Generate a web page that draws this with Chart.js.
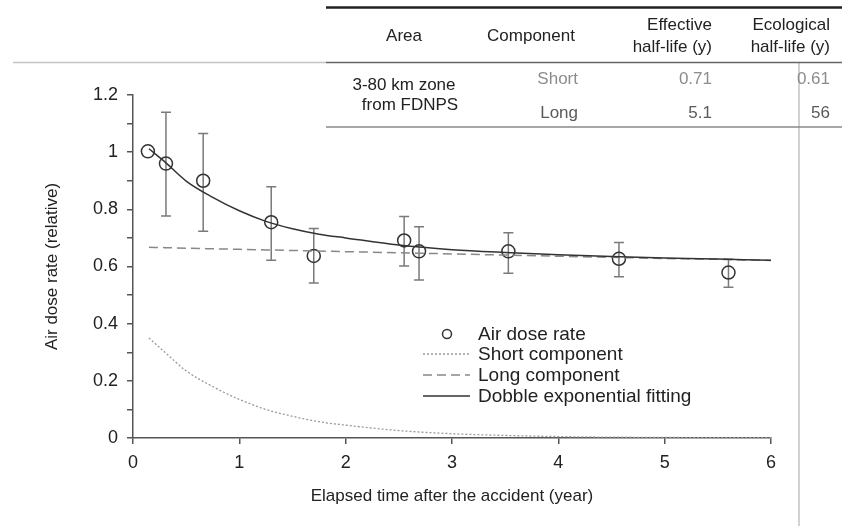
<!DOCTYPE html>
<html>
<head>
<meta charset="utf-8">
<script src="https://cdn.jsdelivr.net/npm/chart.js@4"></script>
<style>
  body { margin: 0; background: #fff; }
  #wrap { width: 842px; height: 526px; }
</style>
</head>
<body>
<div id="wrap"><canvas id="doseChart" width="842" height="526"></canvas></div>
<script>
// measured air dose rate (relative) with error bars
const obsX  = [0.14, 0.31, 0.66, 1.30, 1.70, 2.55, 2.69, 3.53, 4.57, 5.60];
const obsY  = [1.003, 0.96, 0.90, 0.755, 0.637, 0.691, 0.653, 0.653, 0.627, 0.579];
const errLo = [null, 0.777, 0.723, 0.622, 0.542, 0.602, 0.553, 0.576, 0.564, 0.527];
const errHi = [null, 1.140, 1.065, 0.879, 0.733, 0.775, 0.739, 0.718, 0.684, 0.625];

// curves
const curveX = [0.15, 0.3, 0.5, 0.75, 1, 1.25, 1.5, 1.75, 2, 2.5, 3, 3.5, 4, 4.5, 5, 5.5, 6];
const shortY = [0.35, 0.30, 0.235, 0.18, 0.135, 0.10, 0.076, 0.057, 0.045, 0.026, 0.015, 0.009, 0.005, 0.003, 0.002, 0.001, 0.001];
const longY  = [0.667, 0.666, 0.664, 0.662, 0.660, 0.658, 0.656, 0.654, 0.652, 0.648, 0.644, 0.640, 0.636, 0.632, 0.628, 0.625, 0.621];
const fitY   = [1.012, 0.966, 0.899, 0.842, 0.795, 0.758, 0.732, 0.713, 0.700, 0.675, 0.659, 0.649, 0.641, 0.635, 0.630, 0.626, 0.622];

const legendLabels = ['Air dose rate', 'Short component', 'Long component', 'Dobble exponential fitting'];

// half-life table
const tableHead = [['Area'], ['Component'], ['Effective', 'half-life (y)'], ['Ecological', 'half-life (y)']];
const tableArea = ['3-80 km zone', 'from FDNPS'];
const tableComp = ['Short', 'Long'];
const tableEff  = ['0.71', '5.1'];
const tableEco  = ['0.61', '56'];

const FONT = "'Liberation Sans', Arial, sans-serif";

function pts(xs, ys) {
    return xs.map((x, i) => ({ x: x, y: ys[i] }));
}

// error bars under the circles
const errorBars = {
    id: 'errorBars',
    beforeDatasetsDraw(chart) {
        const ctx = chart.ctx;
        const xs = chart.scales.x, ys = chart.scales.y;
        ctx.save();
        ctx.strokeStyle = '#7a7a7a';
        ctx.lineWidth = 1.5;
        obsX.forEach((x, i) => {
            if (errLo[i] == null) return;
            const px = xs.getPixelForValue(x);
            const top = ys.getPixelForValue(errHi[i]);
            const bot = ys.getPixelForValue(errLo[i]);
            ctx.beginPath();
            ctx.moveTo(px, top); ctx.lineTo(px, bot);
            ctx.moveTo(px - 5, top); ctx.lineTo(px + 5, top);
            ctx.moveTo(px - 5, bot); ctx.lineTo(px + 5, bot);
            ctx.stroke();
        });
        ctx.restore();
    }
};

// legend block and table at the top
const extras = {
    id: 'extras',
    afterDraw(chart) {
        const ctx = chart.ctx;
        const ds = chart.data.datasets;
        ctx.save();

        // legend
        const lx = 423, tx = 478;
        const rows = [334, 354, 375, 396];
        ctx.font = '19px ' + FONT;
        ctx.textBaseline = 'middle';
        ctx.textAlign = 'left';
        ctx.fillStyle = '#222';
        rows.forEach((y, i) => ctx.fillText(legendLabels[i], tx, y + 1));
        ctx.strokeStyle = '#333'; ctx.lineWidth = 1.5;
        ctx.beginPath(); ctx.arc(447, rows[0], 4.5, 0, Math.PI * 2); ctx.stroke();
        [ds[1], ds[2], ds[0]].forEach((d, i) => {
            ctx.strokeStyle = d.borderColor;
            ctx.lineWidth = d.borderWidth;
            ctx.setLineDash(d.borderDash || []);
            ctx.beginPath();
            ctx.moveTo(lx, rows[i + 1]); ctx.lineTo(lx + 47, rows[i + 1]);
            ctx.stroke();
        });
        ctx.setLineDash([]);

        // stray frame lines of the figure
        ctx.strokeStyle = '#c4c4c4'; ctx.lineWidth = 1.5;
        ctx.beginPath();
        ctx.moveTo(13, 62.5); ctx.lineTo(326, 62.5);
        ctx.moveTo(799, 62.5); ctx.lineTo(799, 526);
        ctx.stroke();

        // table rules
        ctx.strokeStyle = '#222'; ctx.lineWidth = 2.5;
        ctx.beginPath(); ctx.moveTo(326, 7.5); ctx.lineTo(842, 7.5); ctx.stroke();
        ctx.strokeStyle = '#666'; ctx.lineWidth = 1.5;
        ctx.beginPath(); ctx.moveTo(326, 62.5); ctx.lineTo(842, 62.5); ctx.stroke();
        ctx.strokeStyle = '#888';
        ctx.beginPath(); ctx.moveTo(326, 127); ctx.lineTo(842, 127); ctx.stroke();

        // table text
        ctx.font = '17px ' + FONT;
        ctx.fillStyle = '#222';
        const headX = [404, 531, 712, 830];
        const headAlign = ['center', 'center', 'right', 'right'];
        tableHead.forEach((lines, i) => {
            ctx.textAlign = headAlign[i];
            if (lines.length === 1) ctx.fillText(lines[0], headX[i], 36);
            else { ctx.fillText(lines[0], headX[i], 25); ctx.fillText(lines[1], headX[i], 47); }
        });
        ctx.textAlign = 'center';
        ctx.fillText(tableArea[0], 404, 85);
        ctx.fillText(tableArea[1], 410, 105);
        const rowY = [79, 113];
        const rowCol = ['#8c8c8c', '#5a5a5a'];
        rowY.forEach((y, r) => {
            ctx.fillStyle = rowCol[r];
            ctx.textAlign = 'right';
            ctx.fillText(tableComp[r], 578, y);
            ctx.fillText(tableEff[r], 712, y);
            ctx.fillText(tableEco[r], 830, y);
        });
        ctx.restore();
    }
};

new Chart(document.getElementById('doseChart'), {
    type: 'scatter',
    data: {
        datasets: [
            {
                label: 'Dobble exponential fitting',
                type: 'line',
                data: pts(curveX, fitY),
                borderColor: '#333',
                borderWidth: 1.5,
                pointRadius: 0,
                cubicInterpolationMode: 'monotone',
                fill: false
            },
            {
                label: 'Short component',
                type: 'line',
                data: pts(curveX, shortY),
                borderColor: '#9a9a9a',
                borderWidth: 1.3,
                borderDash: [2, 2],
                pointRadius: 0,
                cubicInterpolationMode: 'monotone',
                fill: false
            },
            {
                label: 'Long component',
                type: 'line',
                data: pts(curveX, longY),
                borderColor: '#888',
                borderWidth: 1.5,
                borderDash: [9, 5],
                pointRadius: 0,
                cubicInterpolationMode: 'monotone',
                fill: false
            },
            {
                label: 'Air dose rate',
                data: pts(obsX, obsY),
                showLine: false,
                pointStyle: 'circle',
                pointRadius: 6.5,
                pointBorderWidth: 1.5,
                borderColor: '#333',
                backgroundColor: 'rgba(0,0,0,0)'
            }
        ]
    },
    options: {
        responsive: false,
        animation: false,
        layout: { padding: { top: 95, right: 71, left: 0, bottom: 0 } },
        plugins: { legend: { display: false }, tooltip: { enabled: false } },
        scales: {
            x: {
                type: 'linear',
                min: 0, max: 6,
                afterFit: s => { s.height = 88; },
                ticks: { stepSize: 1, padding: 8, color: '#222', font: { family: FONT, size: 18 } },
                grid: { drawOnChartArea: false, drawTicks: true, tickLength: 6, color: '#555', lineWidth: 1.5 },
                border: { color: '#555', width: 1.5 },
                title: {
                    display: true,
                    text: 'Elapsed time after the accident (year)',
                    color: '#222',
                    font: { family: FONT, size: 17 },
                    padding: { top: 19, bottom: 19 }
                }
            },
            y: {
                min: 0, max: 1.2,
                afterFit: s => { s.width = 133; },
                ticks: {
                    stepSize: 0.1,
                    padding: 9,
                    color: '#222',
                    font: { family: FONT, size: 18 },
                    callback: v => {
                        const t = Math.round(v * 10);
                        return t % 2 === 0 ? String(t / 10) : '';
                    }
                },
                grid: { drawOnChartArea: false, drawTicks: true, tickLength: 6, color: '#555', lineWidth: 1.5 },
                border: { color: '#555', width: 1.5 },
                title: {
                    display: true,
                    text: 'Air dose rate (relative)',
                    color: '#222',
                    font: { family: FONT, size: 17 },
                    padding: { top: 42, bottom: 42 }
                }
            }
        }
    },
    plugins: [errorBars, extras]
});
</script>
</body>
</html>
